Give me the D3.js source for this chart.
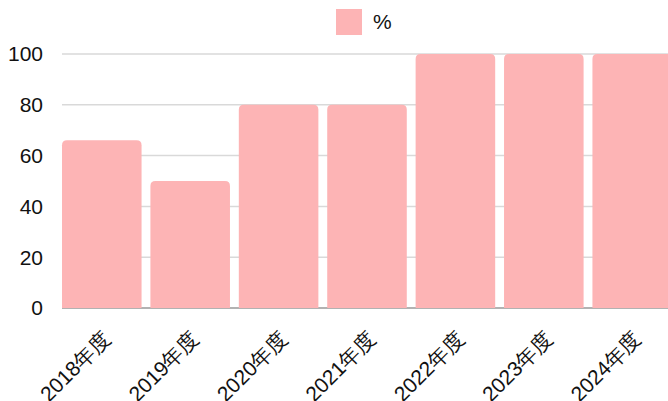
<!DOCTYPE html>
<html><head><meta charset="utf-8">
<script src="https://cdn.jsdelivr.net/npm/d3@7"></script>
<style>body{margin:0;background:#fff;}svg{display:block;font-family:"Liberation Sans",Arial,sans-serif;}</style>
</head><body>
<script>
const categories = ["2018年度","2019年度","2020年度","2021年度","2022年度","2023年度","2024年度"];
const values = [66, 50, 80, 80, 100, 100, 100];
const yTicks = [0, 20, 40, 60, 80, 100];
const seriesName = "%";

(function () {
const W = 668, H = 401;
const svg = d3.select("body").append("svg").attr("width", W).attr("height", H);
const mLeft = 62, mRight = 672, mTop = 54, mBottom = 308;
const x = d3.scaleBand().domain(categories).range([mLeft, mRight]).paddingInner(0.1).paddingOuter(0);
const y = d3.scaleLinear().domain([0, 100]).range([mBottom, mTop]);
const color = "#fdb4b5";
const fs = 21;

// grid
svg.append("g").selectAll("line").data(yTicks).join("line")
  .attr("x1", mLeft).attr("x2", W).attr("y1", d => y(d)).attr("y2", d => y(d))
  .attr("stroke", d => d === 0 ? "#999" : "#d9d9d9").attr("stroke-width", 1.5);

// y labels
svg.append("g").selectAll("text").data(yTicks).join("text")
  .attr("x", 43).attr("y", d => y(d)).attr("dy", "0.35em")
  .attr("text-anchor", "end").attr("font-size", fs).attr("fill", "#111")
  .text(d => d);

// bars with rounded top corners
const r = 5;
svg.append("g").selectAll("path").data(values).join("path")
  .attr("fill", color)
  .attr("d", (d, i) => {
    const x0 = x(categories[i]), w = x.bandwidth(), y0 = y(d), yb = y(0);
    return `M${x0},${yb}V${y0 + r}Q${x0},${y0} ${x0 + r},${y0}H${x0 + w - r}Q${x0 + w},${y0} ${x0 + w},${y0 + r}V${yb}Z`;
  });

// x labels
svg.append("g").selectAll("text").data(categories).join("text")
  .attr("transform", d => `translate(${x(d) + x.bandwidth() / 2 + 10},${mBottom + 32}) rotate(-45)`)
  .attr("text-anchor", "end").attr("font-size", fs).attr("fill", "#111")
  .text(d => d);

// legend
const lg = svg.append("g");
lg.append("rect").attr("x", 336).attr("y", 9).attr("width", 26).attr("height", 26).attr("fill", color);
lg.append("text").attr("x", 373).attr("y", 22).attr("dy", "0.35em").attr("font-size", fs).attr("fill", "#111").text(seriesName);
})();
</script>
</body></html>
